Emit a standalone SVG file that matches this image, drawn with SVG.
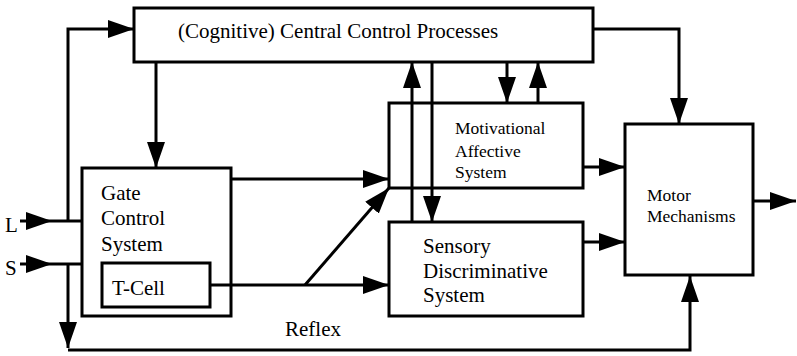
<svg xmlns="http://www.w3.org/2000/svg" width="797" height="356" viewBox="0 0 797 356">
<style>
.box{fill:#fff;stroke:#000;stroke-width:3}
.ln{fill:none;stroke:#000;stroke-width:3}
.ar{fill:none;stroke:#000;stroke-width:3;marker-end:url(#ah)}
text{font-family:'Liberation Serif','DejaVu Serif',serif;fill:#000}
.big{font-size:21px}
.sm{font-size:17.5px}
</style>
<defs>
<marker id="ah" viewBox="0 0 26 18" refX="26" refY="9" markerWidth="26" markerHeight="18" markerUnits="userSpaceOnUse" orient="auto">
<path d="M0,0 L26,9 L0,18 Z" fill="#000"/>
</marker>
</defs>
<g id="central" font-family="Liberation Serif, serif">
<rect class="box" x="134" y="8" width="459" height="54"/>
<text class="big" x="178" y="38">(Cognitive) Central Control Processes</text>
</g>
<g id="gate" font-family="Liberation Serif, serif">
<rect class="box" x="82" y="168" width="149" height="148"/>
<text class="big" x="101" y="200">Gate</text>
<text class="big" x="101" y="225">Control</text>
<text class="big" x="101" y="251">System</text>
</g>
<g id="tcell" font-family="Liberation Serif, serif">
<rect class="box" x="102" y="263" width="108" height="44"/>
<text class="big" x="112" y="295">T-Cell</text>
</g>
<g id="motivational" font-family="Liberation Serif, serif">
<rect class="box" x="389" y="103" width="194" height="85"/>
<text class="sm" x="455" y="134">Motivational</text>
<text class="sm" x="455" y="157">Affective</text>
<text class="sm" x="455" y="178">System</text>
</g>
<g id="sensory" font-family="Liberation Serif, serif">
<rect class="box" x="389" y="222" width="194" height="94"/>
<text class="big" x="423" y="253">Sensory</text>
<text class="big" x="423" y="278">Discriminative</text>
<text class="big" x="423" y="302">System</text>
</g>
<g id="motor" font-family="Liberation Serif, serif">
<rect class="box" x="625" y="124" width="128" height="151"/>
<text class="sm" x="647" y="201">Motor</text>
<text class="sm" x="647" y="222">Mechanisms</text>
</g>
<g id="labels" font-family="Liberation Serif, serif">
<text class="big" x="5" y="232">L</text>
<text class="big" x="5" y="275">S</text>
<text class="big" x="285" y="336">Reflex</text>
</g>
<g id="connectors">
<path class="ar" d="M68,221 V29 H134"/>
<path class="ar" d="M20,221 H52"/>
<path class="ln" d="M52,221 H82"/>
<path class="ar" d="M20,264 H52"/>
<path class="ln" d="M52,264 H82"/>
<path class="ar" d="M68,264 V348"/>
<path class="ar" d="M68,350 H690 V276"/>
<path class="ar" d="M156,62 V168"/>
<path class="ar" d="M231,179 H389"/>
<path class="ar" d="M210,285 H389"/>
<path class="ar" d="M305,285 L389,188"/>
<path class="ar" d="M432,62 V222"/>
<path class="ar" d="M412,222 V62"/>
<path class="ar" d="M507,62 V103"/>
<path class="ar" d="M538,103 V62"/>
<path class="ar" d="M593,29 H679 V124"/>
<path class="ar" d="M583,167 H625"/>
<path class="ar" d="M583,242 H625"/>
<path class="ar" d="M753,201 H796"/>
</g>
</svg>
